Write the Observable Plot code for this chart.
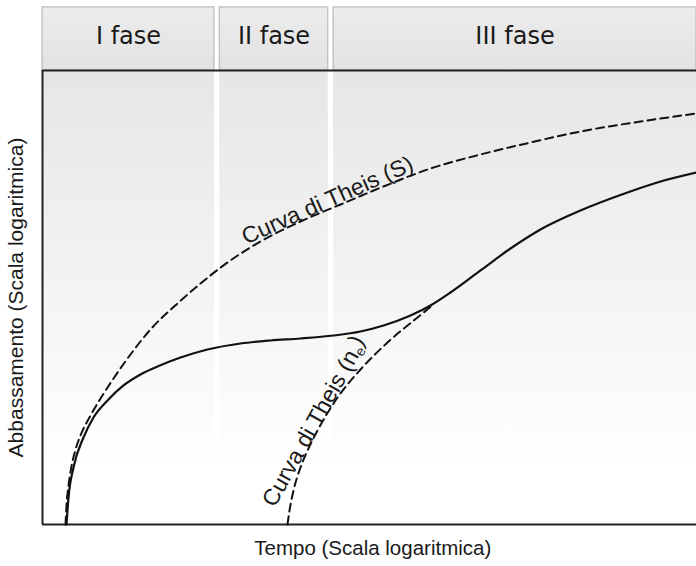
<!DOCTYPE html>
<html><head><meta charset="utf-8">
<script src="https://cdn.jsdelivr.net/npm/d3@7"></script>
<script src="https://cdn.jsdelivr.net/npm/@observablehq/plot@0.6"></script>
<style>body{margin:0;background:#fff}</style>
</head><body><div id="chart"></div>
<script>
// Phases (log-time units, 0..100)
const phases = ["I fase", "II fase", "III fase"];
const phaseStart = [0, 27.1, 44.5];
const phaseEnd = [26.3, 43.7, 100];

// Measured drawdown curve (solid)
const measuredT = [3.67, 3.98, 4.74, 6.27, 7.80, 9.94, 12.39, 14.98, 17.58, 21.10, 25.23, 30.28, 34.86, 39.45, 44.50, 48.62, 52.14, 56.27, 59.33, 62.39, 66.97, 71.56, 76.15, 82.26, 89.45, 94.50, 100];
const measuredS = [0, 5.95, 12.56, 19.16, 23.57, 27.31, 30.62, 33.04, 34.80, 36.78, 38.55, 39.87, 40.53, 40.97, 41.63, 42.51, 43.83, 46.04, 48.24, 51.10, 55.95, 60.79, 64.98, 69.16, 73.13, 75.55, 77.53];

// Theis curve (S)
const theisST = [3.52, 3.67, 3.98, 4.43, 5.05, 5.81, 7.34, 8.87, 10.86, 13.00, 16.51, 20.64, 24.16, 28.29, 33.33, 39.45, 45.57, 52.14, 59.33, 66.97, 74.62, 82.26, 91.44, 100];
const theisSS = [0, 4.19, 8.59, 12.78, 16.52, 19.60, 24.01, 27.75, 32.16, 36.56, 42.95, 48.68, 53.08, 57.71, 62.33, 66.74, 70.48, 74.45, 78.41, 81.50, 84.14, 86.56, 88.77, 90.53];

// Theis curve (ne)
const theisNT = [37.46, 37.77, 38.38, 39.45, 40.67, 42.05, 45.11, 48.62, 52.75, 57.34, 59.79];
const theisNS = [0, 3.08, 7.49, 12.56, 16.74, 20.70, 27.97, 34.14, 40.09, 45.59, 48.46];

const curveLabels = ["Curva di Theis (S)", "Curva di Theis (ne)"];
const labelT = [43.58, 41.59];
const labelS = [71.37, 22.69];
const labelAngle = [-24, -61];

const xLabel = "Tempo (Scala logaritmica)";
const yLabel = "Abbassamento (Scala logaritmica)";

const toXY = (xs, ys) => xs.map((x, i) => ({x, y: ys[i]}));
const measured = toXY(measuredT, measuredS);
const theisS = toXY(theisST, theisSS);
const theisN = toXY(theisNT, theisNS);
const labels = curveLabels.map((t, i) => ({t, x: labelT[i], y: labelS[i], a: labelAngle[i]}));

const sans = "'Liberation Sans', Arial, Helvetica, sans-serif";

const svg = Plot.plot({
  width: 696, height: 566,
  marginLeft: 42, marginRight: 0, marginTop: 70, marginBottom: 42,
  x: {domain: [0, 100], axis: null},
  y: {domain: [0, 100], axis: null},
  style: {background: "#fff"},
  marks: [
    Plot.rect(phases, {x1: (d, i) => phaseStart[i], x2: (d, i) => phaseEnd[i], y1: 0, y2: 100, fill: "url(#bgGrad)"}),
    Plot.rect(phases, {x1: (d, i) => phaseStart[i], x2: (d, i) => phaseEnd[i], y1: 100, y2: 113.9, fill: "url(#hdrGrad)", stroke: "#b0b0b0", strokeWidth: 1}),
    Plot.text(phases, {x: (d, i) => (phaseStart[i] + phaseEnd[i]) / 2, y: 107.6, text: d => d, fontSize: 24, fontFamily: "'DejaVu Sans', Verdana, sans-serif", fill: "#1a1a1a"}),
    Plot.ruleX([0], {y1: 0, y2: 100, stroke: "#222", strokeWidth: 2}),
    Plot.ruleY([0, 100], {x1: 0, x2: 100, stroke: "#222", strokeWidth: 2}),
    Plot.line(theisS, {x: "x", y: "y", curve: "monotone-x", stroke: "#111", strokeWidth: 2, strokeDasharray: "8,5"}),
    Plot.line(theisN, {x: "x", y: "y", curve: "monotone-x", stroke: "#111", strokeWidth: 2, strokeDasharray: "8,5"}),
    Plot.line(measured, {x: "x", y: "y", curve: "monotone-x", stroke: "#111", strokeWidth: 2.2}),
    Plot.text(labels, {x: "x", y: "y", text: "t", rotate: "a", fontSize: 23, fontFamily: sans, fill: "#1a1a1a"}),
    Plot.text([xLabel], {x: 50.5, frameAnchor: "bottom", dy: 30, text: d => d, fontSize: 20.5, fontFamily: sans, fill: "#1a1a1a"}),
    Plot.text([yLabel], {frameAnchor: "left", dx: -26, rotate: -90, textAnchor: "middle", text: d => d, fontSize: 21, fontFamily: sans, fill: "#1a1a1a"})
  ]
});

// gradients
const defs = d3.select(svg).insert("defs", ":first-child");
const g1 = defs.append("linearGradient").attr("id", "bgGrad").attr("x1", 0).attr("y1", 0).attr("x2", 0).attr("y2", 1);
g1.append("stop").attr("offset", "0%").attr("stop-color", "#e6e6e6");
g1.append("stop").attr("offset", "88%").attr("stop-color", "#ffffff");
const g2 = defs.append("linearGradient").attr("id", "hdrGrad").attr("x1", 0).attr("y1", 0).attr("x2", 0).attr("y2", 1);
g2.append("stop").attr("offset", "0%").attr("stop-color", "#ececec");
g2.append("stop").attr("offset", "100%").attr("stop-color", "#e2e2e2");

// subscript e in the (ne) label
svg.querySelectorAll("text").forEach(t => {
  if (t.textContent === "Curva di Theis (ne)") {
    t.textContent = "";
    const ns = "http://www.w3.org/2000/svg";
    const a = document.createElementNS(ns, "tspan"); a.textContent = "Curva di Theis (n";
    const b = document.createElementNS(ns, "tspan"); b.textContent = "e"; b.setAttribute("font-size", "14"); b.setAttribute("dy", "0.25em");
    const c = document.createElementNS(ns, "tspan"); c.textContent = ")"; c.setAttribute("dy", "-0.25em");
    t.append(a, b, c);
  }
});

document.getElementById("chart").append(svg);
</script>
</body></html>
